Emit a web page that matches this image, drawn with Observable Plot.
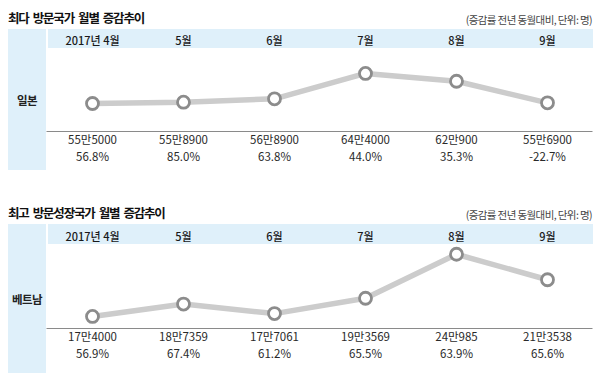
<!DOCTYPE html>
<html><head><meta charset="utf-8">
<script src="https://cdn.jsdelivr.net/npm/d3@7"></script>
<script src="https://cdn.jsdelivr.net/npm/@observablehq/plot@0.6"></script>
<style>
body{margin:0;background:#fff;}
#wrap{position:relative;width:601px;height:373px;font-family:"Noto Sans CJK KR","Noto Sans",sans-serif;color:#222;overflow:hidden;}
.title{position:absolute;left:8px;font-size:12.5px;font-weight:700;line-height:16px;letter-spacing:-1.2px;word-spacing:2.5px;color:#111;white-space:nowrap;}
.note{position:absolute;right:9px;font-size:10.5px;line-height:14px;letter-spacing:-0.6px;color:#444;white-space:nowrap;}
.band{position:absolute;left:48px;width:545px;background:#dff0fa;}
.lcol{position:absolute;left:8px;width:38px;background:#dff0fa;display:flex;align-items:center;justify-content:center;font-size:11.5px;font-weight:600;letter-spacing:-0.5px;color:#222;}
.chart{position:absolute;left:0;}
</style>
</head><body>
<div id="wrap">
  <div class="title" style="top:10px">최다 방문국가 월별 증감추이</div>
  <div class="note" style="top:13px">(증감률 전년 동월대비, 단위: 명)</div>
  <div class="band" style="top:29px;height:19px"></div>
  <div class="lcol" style="top:29px;height:141px">일본</div>
  <div class="chart" id="c1" style="top:29px"></div>

  <div class="title" style="top:205px">최고 방문성장국가 월별 증감추이</div>
  <div class="note" style="top:208px">(증감률 전년 동월대비, 단위: 명)</div>
  <div class="band" style="top:224px;height:20px"></div>
  <div class="lcol" style="top:224px;height:149px">베트남</div>
  <div class="chart" id="c2" style="top:224px"></div>
</div>
<script>
const months = ["2017년 4월", "5월", "6월", "7월", "8월", "9월"];
const japanVisitors = [555000, 558900, 568900, 644000, 620900, 556900];
const japanGrowth = [56.8, 85.0, 63.8, 44.0, 35.3, -22.7];
const vietnamVisitors = [174000, 187359, 177061, 193569, 240985, 213538];
const vietnamGrowth = [56.9, 67.4, 61.2, 65.5, 63.9, 65.6];
const japanDomain = [472000, 718000];
const vietnamDomain = [161000, 251500];

function fmtMan(v) {
  const man = Math.floor(v / 10000), rest = v % 10000;
  return man + "만" + rest;
}
function fmtPct(p) {
  return (p < 0 ? "-" : "") + Math.abs(p).toFixed(1) + "%";
}

function panel(visitors, growth, domain, height, marginTop, marginBottom) {
  const data = months.map((m, i) => ({month: m, v: visitors[i], g: growth[i]}));
  return Plot.plot({
    width: 601,
    height,
    marginLeft: 46.5,
    marginRight: 8.5,
    marginTop,
    marginBottom,
    style: {background: "transparent", fontFamily: "'Noto Sans CJK KR', sans-serif", fontSize: "11px", fontWeight: 500, color: "#1a1a1a", overflow: "visible"},
    x: {type: "point", domain: months, padding: 0.5, axis: "top", tickSize: 0, tickPadding: 4, label: null},
    y: {domain, axis: null},
    marks: [
      Plot.ruleY([domain[0]], {stroke: "#8a8a8a", strokeWidth: 1}),
      Plot.line(data, {x: "month", y: "v", stroke: "#cccccc", strokeWidth: 5.5, curve: "linear"}),
      Plot.dot(data, {x: "month", y: "v", r: 6, fill: "#fff", stroke: "#8c8c8c", strokeWidth: 2.8}),
      Plot.text(data, {x: "month", frameAnchor: "bottom", dy: 12, text: d => fmtMan(d.v), fontSize: 11.5, fontWeight: 400, fill: "#2a2a2a", letterSpacing: "-0.3px"}),
      Plot.text(data, {x: "month", frameAnchor: "bottom", dy: 29, text: d => fmtPct(d.g), fontSize: 11.5, fontWeight: 400, fill: "#2a2a2a", letterSpacing: "1.2px"})
    ]
  });
}

document.getElementById("c1").append(panel(japanVisitors, japanGrowth, japanDomain, 146, 19, 44));
document.getElementById("c2").append(panel(vietnamVisitors, vietnamGrowth, vietnamDomain, 149, 20, 45));
</script>
</body></html>
